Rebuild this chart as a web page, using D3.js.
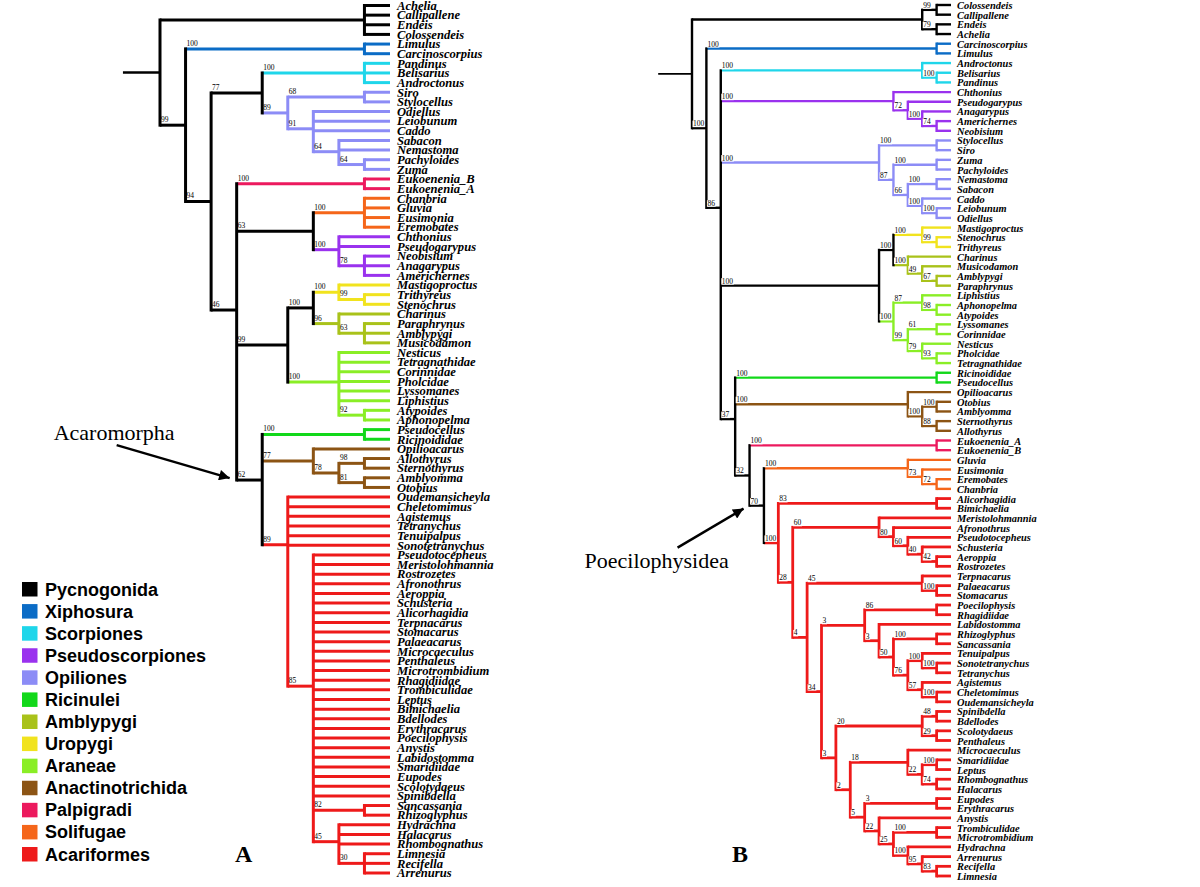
<!DOCTYPE html>
<html><head><meta charset="utf-8">
<script src="https://cdn.jsdelivr.net/npm/d3@7"></script>
<style>body{margin:0;background:#fff}svg{display:block}</style>
</head><body>
<svg id="chart" width="1200" height="887"></svg>
<script>
// ---------------- DATA ----------------
const groupNames = ["Pycnogonida","Xiphosura","Scorpiones","Pseudoscorpiones","Opiliones","Ricinulei","Amblypygi","Uropygi","Araneae","Anactinotrichida","Palpigradi","Solifugae","Acariformes"];
const groupColors = ["#000000","#0b6cc6","#1fd6ea","#9a32ee","#8c8cf6","#12d81a","#a9c21a","#f1e31e","#8aee26","#8c5414","#ec1a5e","#f5661a","#ee1a1a"];
const groupMembers = [
  ["Achelia","Callipallene","Endeis","Colossendeis"],
  ["Limulus","Carcinoscorpius"],
  ["Pandinus","Belisarius","Androctonus"],
  ["Chthonius","Pseudogarypus","Neobisium","Anagarypus","Americhernes"],
  ["Siro","Stylocellus","Odiellus","Leiobunum","Caddo","Sabacon","Nemastoma","Pachyloides","Zuma"],
  ["Pseudocellus","Ricinoididae"],
  ["Charinus","Paraphrynus","Amblypygi","Musicodamon"],
  ["Mastigoproctus","Trithyreus","Stenochrus"],
  ["Nesticus","Tetragnathidae","Corinnidae","Pholcidae","Lyssomanes","Liphistius","Atypoides","Aphonopelma"],
  ["Opilioacarus","Allothyrus","Sternothyrus","Amblyomma","Otobius"],
  ["Eukoenenia_A","Eukoenenia_B"],
  ["Chanbria","Gluvia","Eusimonia","Eremobates"],
  ["Oudemansicheyla","Cheletomimus","Agistemus","Tetranychus","Tenuipalpus","Sonotetranychus","Pseudotocepheus","Meristolohmannia","Rostrozetes","Afronothrus","Aeroppia","Schusteria","Alicorhagidia","Terpnacarus","Stomacarus","Palaeacarus","Microcaeculus","Penthaleus","Microtrombidium","Rhagidiidae","Trombiculidae","Leptus","Bimichaelia","Bdellodes","Erythracarus","Poecilophysis","Anystis","Labidostomma","Smaridiidae","Eupodes","Scolotydaeus","Spinibdella","Sancassania","Rhizoglyphus","Hydrachna","Halacarus","Rhombognathus","Limnesia","Recifella","Arrenurus"]
];

// Tree A (Newick with bootstrap supports as node labels)
const treeA = "((Achelia,Callipallene,Endeis,Colossendeis),((Limulus,Carcinoscorpius)100,(((Pandinus,Belisarius,Androctonus)100,((Siro,Stylocellus)68,(Odiellus,Leiobunum,Caddo,(Sabacon,Nemastoma,(Pachyloides,Zuma)64)64)91)89)77,((Eukoenenia_B,Eukoenenia_A)100,((Chanbria,Gluvia,Eusimonia,Eremobates)100,(Chthonius,Pseudogarypus,(Neobisium,Anagarypus,Americhernes)78)100)63,(((Mastigoproctus,(Trithyreus,Stenochrus)99)100,(Charinus,(Paraphrynus,Amblypygi,Musicodamon)63)96)100,(Nesticus,Tetragnathidae,Corinnidae,Pholcidae,Lyssomanes,Liphistius,(Atypoides,Aphonopelma)92)100)99,((Pseudocellus,Ricinoididae)100,(Opilioacarus,((Allothyrus,Sternothyrus)98,(Amblyomma,Otobius)81)78)77,(Oudemansicheyla,Cheletomimus,Agistemus,Tetranychus,Tenuipalpus,Sonotetranychus,(Pseudotocepheus,Meristolohmannia,Rostrozetes,Afronothrus,Aeroppia,Schusteria,Alicorhagidia,Terpnacarus,Stomacarus,Palaeacarus,Microcaeculus,Penthaleus,Microtrombidium,Rhagidiidae,Trombiculidae,Leptus,Bimichaelia,Bdellodes,Erythracarus,Poecilophysis,Anystis,Labidostomma,Smaridiidae,Eupodes,Scolotydaeus,Spinibdella,(Sancassania,Rhizoglyphus)82,(Hydrachna,Halacarus,Rhombognathus,(Limnesia,Recifella,Arrenurus)30)45)85)89)62)46)94)99);";

// Tree B clades
const bPycnogonida = "((Colossendeis,Callipallene)99,(Endeis,Achelia)79)";
const bXiphosura = "(Carcinoscorpius,Limulus)100";
const bScorpiones = "(Androctonus,(Belisarius,Pandinus)100)100";
const bPseudoscorp = "(Chthonius,(Pseudogarypus,(Anagarypus,(Americhernes,Neobisium)74)100)72)100";
const bOpiliones = "((Stylocellus,Siro)100,((Zuma,Pachyloides)100,((Nemastoma,Sabacon)100,(Caddo,(Leiobunum,Odiellus)100)100)66)87)100";
const bUroAmbAra = "(((Mastigoproctus,(Stenochrus,Trithyreus)99)100,(Charinus,(Musicodamon,(Amblypygi,Paraphrynus)67)49)100)100,((Liphistius,(Aphonopelma,Atypoides)98)87,((Lyssomanes,Corinnidae)61,(Nesticus,(Pholcidae,Tetragnathidae)93)79)99)100)100";
const bRicinulei = "(Ricinoididae,Pseudocellus)100";
const bAnactino = "(Opilioacarus,((Otobius,Amblyomma)100,(Sternothyrus,Allothyrus)88)100)100";
const bPalpigradi = "(Eukoenenia_A,Eukoenenia_B)100";
const bSolifugae = "(Gluvia,(Eusimonia,(Eremobates,Chanbria)72)73)100";
const bAcariA = "(Meristolohmannia,(Afronothrus,(Pseudotocepheus,(Schusteria,(Aeroppia,Rostrozetes)42)40)60)80)60";
const bAcariB = "(Terpnacarus,(Palaeacarus,Stomacarus)100)45";
const bAcariC = "((Poecilophysis,Rhagidiidae)86,(Labidostomma,((Rhizoglyphus,Sancassania)100,((Tenuipalpus,(Sonotetranychus,Tetranychus)100)100,(Agistemus,(Cheletomimus,Oudemansicheyla)100)57)76)50)3)3";
const bAcariD = "(((Spinibdella,Bdellodes)48,(Scolotydaeus,Penthaleus)29)20,((Microcaeculus,((Smaridiidae,Leptus)100,(Rhombognathus,Halacarus)74)22)18,((Eupodes,Erythracarus)3,(Anystis,((Trombiculidae,Microtrombidium)100,(Hydrachna,(Arrenurus,(Recifella,Limnesia)83)95)100)25)22)5)2)3";
const bAcariformes = "((Alicorhagidia,Bimichaelia)83,(" + bAcariA + ",(" + bAcariB + ",(" + bAcariC + "," + bAcariD + ")34)4)28)100";
const treeB = "(" + bPycnogonida + ",(" + bXiphosura + ",(" + bScorpiones + "," + bPseudoscorp + "," + bOpiliones + "," + bUroAmbAra +
  ",(" + bRicinulei + "," + bAnactino + ",(" + bPalpigradi + ",(" + bSolifugae + "," + bAcariformes + ")70)32)37)86)100);";

const panelLabels = ["A","B"];
const cladeNotes = ["Acaromorpha","Poecilophysidea"];

// ---------------- HELPERS ----------------
function parseNewick(s){
  let i = 0;
  function node(){
    const n = {};
    if (s[i] === "("){
      i++; n.children = [];
      n.children.push(node());
      while (s[i] === ","){ i++; n.children.push(node()); }
      i++; // ')'
    }
    const st = i;
    while (i < s.length && !",();".includes(s[i])) i++;
    const lab = s.slice(st, i);
    if (n.children) n.support = lab; else n.name = lab;
    return n;
  }
  return node();
}
const tipGroup = new Map();
groupMembers.forEach((arr, gi) => arr.forEach(t => tipGroup.set(t, gi)));

const svg = d3.select("#chart");

function drawTree(cfg){
  const root = d3.hierarchy(parseNewick(cfg.newick));
  const leaves = root.leaves();
  const y = d3.scaleLinear().domain([0, leaves.length - 1]).range(cfg.yRange);
  const x = d3.scaleLinear().domain([0, root.height]).range(cfg.xRange);
  leaves.forEach((d, i) => d.py = y(i));
  root.eachAfter(d => {
    if (d.children) d.py = d3.mean(d.children, c => c.py);
    d.px = x(d.height);
    const gs = new Set(d.leaves().map(l => tipGroup.get(l.data.name)));
    d.color = gs.size === 1 ? groupColors[[...gs][0]] : "#000";
  });
  const g = svg.append("g");
  // root stem
  g.append("line")
    .attr("x1", x(root.height + cfg.stem)).attr("x2", root.px)
    .attr("y1", root.py).attr("y2", root.py)
    .attr("stroke", "#000").attr("stroke-width", cfg.stemWidth);
  // horizontal branches
  g.selectAll("line.h").data(root.descendants().filter(d => d.parent)).join("line")
    .attr("class", "h")
    .attr("x1", d => d.parent.px).attr("x2", d => d.px)
    .attr("y1", d => d.py).attr("y2", d => d.py)
    .attr("stroke", d => d.color).attr("stroke-width", d => cfg.width(d));
  // vertical connectors
  g.selectAll("line.v").data(root.descendants().filter(d => d.children)).join("line")
    .attr("class", "v")
    .attr("x1", d => d.px).attr("x2", d => d.px)
    .attr("y1", d => d.children[0].py).attr("y2", d => d.children[d.children.length - 1].py)
    .attr("stroke", d => d.color).attr("stroke-width", d => cfg.width(d))
    .attr("stroke-linecap", "square");
  // support values
  const sup = g.selectAll("g.s").data(root.descendants().filter(d => d.children && d.data.support && d.parent)).join("g")
    .attr("class", "s")
    .attr("transform", d => `translate(${d.parent.px + cfg.supDx},${d.py - cfg.supDy})`);
  const st = sup.append("text")
    .attr("font-family", "'Liberation Serif','Times New Roman',serif")
    .attr("font-size", cfg.supSize).attr("fill", "#000")
    .text(d => d.data.support);
  if (cfg.supBg){
    st.each(function(){
      const b = this.getBBox();
      d3.select(this.parentNode).insert("rect", "text")
        .attr("x", b.x - 0.5).attr("y", b.y + 1.5).attr("width", b.width + 1).attr("height", b.height - 2.5)
        .attr("fill", "#fff");
    });
  }
  // tip labels
  g.selectAll("text.t").data(leaves).join("text")
    .attr("class", "t")
    .attr("x", d => d.px + cfg.labelGap).attr("y", d => d.py + cfg.labelDy)
    .attr("font-family", "'Liberation Serif','Times New Roman',serif")
    .attr("font-weight", "bold").attr("font-style", "italic")
    .attr("font-size", cfg.labelSize).attr("fill", "#000")
    .text(d => d.data.name);
  return root;
}

const rootA = drawTree({
  newick: treeA, xRange: [390, 160], yRange: [5.5, 873], stem: 1.45, stemWidth: 2.5,
  width: d => 3, supDx: 1, supDy: 3, supSize: 7.5, supBg: false, labelGap: 7, labelDy: 4.3, labelSize: 12.6
});
const rootB = drawTree({
  newick: treeB, xRange: [951, 692], yRange: [5, 876], stem: 2.35, stemWidth: 1.6,
  width: d => (d.color === groupColors[12] ? 2.8 : 2.4), supDx: 1, supDy: 2, supSize: 7.5, supBg: true, labelGap: 6, labelDy: 4, labelSize: 10.4
});

// ---------------- ANNOTATIONS ----------------
svg.append("defs").append("marker")
  .attr("id", "arr").attr("viewBox", "0 0 10 10").attr("refX", 10).attr("refY", 5)
  .attr("markerWidth", 6).attr("markerHeight", 4.4).attr("markerUnits", "strokeWidth")
  .attr("orient", "auto")
  .append("path").attr("d", "M0,0 L10,5 L0,10 z").attr("fill", "#000");

function annotate(node, dx0, dy0, dx1, dy1, text, tx, ty){
  const ex = (node.parent ? node.parent.px : node.px) + dx0, ey = node.py + dy0;
  const sx = ex + dx1, sy = ey + dy1;
  svg.append("line").attr("x1", sx).attr("y1", sy).attr("x2", ex).attr("y2", ey)
    .attr("stroke", "#000").attr("stroke-width", 2.4).attr("marker-end", "url(#arr)");
  svg.append("text").attr("x", sx + tx).attr("y", sy + ty)
    .attr("font-family", "'Liberation Serif','Times New Roman',serif").attr("font-size", 22)
    .text(text);
}
const nA = rootA.descendants().find(d => d.data.support === "62");
const nB = rootB.descendants().find(d => d.data.support === "70");
annotate(nA, -7, -2, -113, -33, cladeNotes[0], -63, -5);
annotate(nB, -6, 3, -66, 39, cladeNotes[1], -93, 20);

// panel letters
svg.selectAll("text.panel").data(panelLabels).join("text")
  .attr("class", "panel")
  .attr("x", (d, i) => [235, 732][i]).attr("y", 862)
  .attr("font-family", "'Liberation Serif','Times New Roman',serif").attr("font-weight", "bold")
  .attr("font-size", 24).text(d => d);

// legend
const ly = d3.scaleLinear().domain([0, groupNames.length - 1]).range([582, 847]);
const leg = svg.append("g");
leg.selectAll("rect").data(groupNames).join("rect")
  .attr("x", 22).attr("y", (d, i) => ly(i)).attr("width", 15.5).attr("height", 14.5)
  .attr("fill", (d, i) => groupColors[i]);
leg.selectAll("text").data(groupNames).join("text")
  .attr("x", 45).attr("y", (d, i) => ly(i) + 13.5)
  .attr("font-family", "'Liberation Sans',Arial,sans-serif").attr("font-weight", "bold")
  .attr("font-size", 18).attr("fill", "#000")
  .text(d => d);
</script>
</body></html>
